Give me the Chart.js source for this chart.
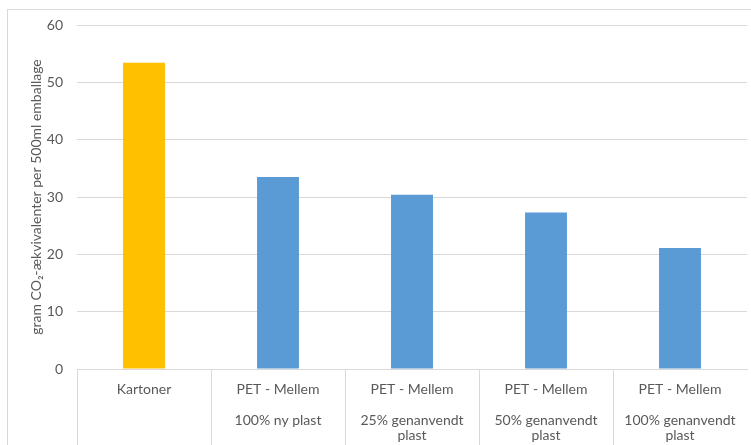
<!DOCTYPE html>
<html lang="da">
<head>
  <meta charset="UTF-8">
  <title>CO2 per emballage</title>
  <script src="https://cdn.jsdelivr.net/npm/chart.js"></script>
  <style>
    html, body { margin: 0; padding: 0; background: #fff; }
    .wrap { position: relative; width: 751px; height: 445px; overflow: hidden; }
    .frame {
      position: absolute; left: 7px; top: 9px; width: 760px; height: 460px;
      border: 1px solid #d9d9d9; pointer-events: none;
    }
    canvas { position: absolute; left: 0; top: 0; }
  </style>
</head>
<body>
<div class="wrap">
  <canvas id="co2Chart" width="751" height="445"></canvas>
  <div class="frame"></div>
</div>

<script>
const categories = [
  ['Kartoner'],
  ['PET - Mellem', '', '100% ny plast'],
  ['PET - Mellem', '', '25% genanvendt', 'plast'],
  ['PET - Mellem', '', '50% genanvendt', 'plast'],
  ['PET - Mellem', '', '100% genanvendt', 'plast']
];
const values = [53.4, 33.5, 30.4, 27.3, 21.1];
const barColors = ['#FFC000', '#5B9BD5', '#5B9BD5', '#5B9BD5', '#5B9BD5'];
const yTitle = 'gram CO\u2082-ækvivalenter per 500ml emballage';

const gridColor = '#d9d9d9';
const textColor = '#595959';

// vertical separators between the category labels, below the axis
const dividers = {
  id: 'dividers',
  afterDraw(chart) {
    const x = chart.scales.x, ctx = chart.ctx;
    const bottom = chart.chartArea.bottom;
    ctx.save();
    ctx.strokeStyle = gridColor;
    ctx.lineWidth = 1;
    for (let i = 0; i < categories.length; i++) {
      const px = Math.round(x.getPixelForValue(i - 0.5)) + 0.5;
      ctx.beginPath();
      ctx.moveTo(px, bottom);
      ctx.lineTo(px, chart.height);
      ctx.stroke();
    }
    ctx.restore();
  }
};

new Chart(document.getElementById('co2Chart'), {
  type: 'bar',
  data: {
    labels: categories,
    datasets: [{
      data: values,
      backgroundColor: barColors,
      borderWidth: 0,
      categoryPercentage: 1,
      barPercentage: 0.313
    }]
  },
  options: {
    responsive: false,
    animation: false,
    layout: { padding: { top: 25, right: 4, left: 0, bottom: 0 } },
    plugins: { legend: { display: false }, tooltip: { enabled: false } },
    scales: {
      y: {
        min: 0, max: 60,
        ticks: { stepSize: 10, color: textColor, padding: 14, font: { family: 'Lato', size: 14 } },
        grid: { color: gridColor, drawTicks: false, lineWidth: 1 },
        border: { display: false },
        title: {
          display: true, text: yTitle, color: textColor,
          font: { family: 'Lato', size: 14 }, padding: { top: 28, bottom: 0 }
        },
        afterFit(s) { s.width = 77; }
      },
      x: {
        offset: true,
        ticks: {
          color: textColor, padding: 5, maxRotation: 0, autoSkip: false,
          font: { family: 'Lato', size: 14, lineHeight: 1.1 }
        },
        grid: { display: false },
        border: { display: true, color: gridColor },
        afterFit(s) { s.height = 76; }
      }
    }
  },
  plugins: [dividers]
});
</script>
</body>
</html>
